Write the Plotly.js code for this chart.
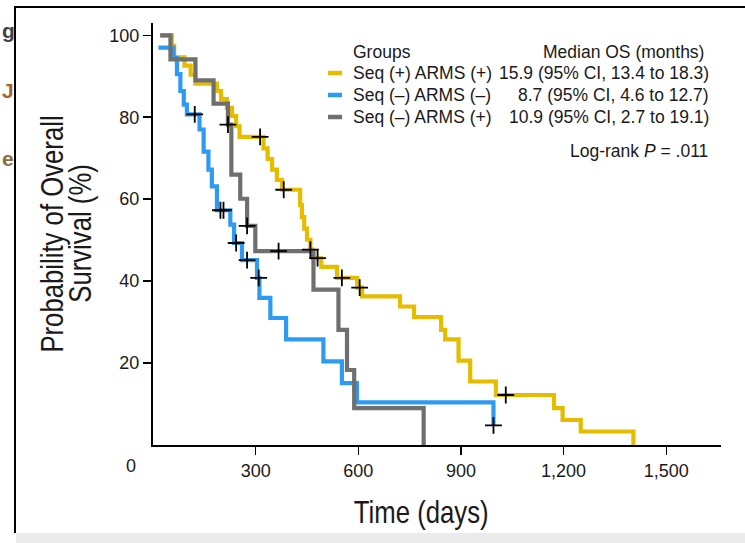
<!DOCTYPE html>
<html>
<head>
<meta charset="utf-8">
<script src="https://cdn.plot.ly/plotly-3.0.1.min.js"></script>
<style>
  html, body { margin: 0; padding: 0; background: #ffffff; }
  #chart { width: 745px; height: 543px; }
</style>
</head>
<body>
<div id="chart"></div>
<script>
// ---------- data (days, survival %) ----------
const groupNames = ["Seq (+) ARMS (+)", "Seq (\u2013) ARMS (\u2013)", "Seq (\u2013) ARMS (+)"];
const medianText = ["15.9 (95% CI, 13.4 to 18.3)", "8.7 (95% CI, 4.6 to 12.7)", "10.9 (95% CI, 2.7 to 19.1)"];
const groupColors = ["#E4BC00", "#2E9BF2", "#6F6F6F"];

const yellowDays = [21, 55, 62, 92, 110, 124, 187, 199, 216, 231, 243, 253, 323, 335, 348, 362, 377, 430, 435, 442, 450, 460, 466, 492, 538, 597, 611, 722, 763, 842, 854, 893, 927, 1002, 1172, 1197, 1250, 1404];
const yellowSurv = [100, 97.4, 94.6, 92.6, 90.4, 88.2, 86.4, 84.4, 82.3, 80.3, 77.8, 75.2, 72.4, 69.8, 67.2, 64.7, 62.3, 58.6, 55.6, 52.8, 50.1, 47.7, 45.6, 43.5, 40.8, 38.4, 36.3, 33.8, 31.2, 28.1, 25.8, 20.6, 15.5, 12.2, 9.0, 6.1, 3.3, 0];
const yellowCensDays = [313, 382, 460, 481, 552, 604, 1031];
const yellowCensSurv = [75.2, 62.3, 47.7, 45.6, 40.8, 38.4, 12.2];

const blueDays = [16, 60, 70, 80, 90, 99, 136, 148, 162, 172, 187, 226, 237, 260, 304, 311, 343, 389, 498, 552, 596, 995];
const blueSurv = [97.0, 94.5, 90.5, 86.4, 83.1, 80.7, 77.0, 71.6, 67.2, 63.1, 57.3, 53.8, 49.3, 45.1, 40.8, 35.9, 31.0, 25.8, 20.4, 15.1, 10.4, 4.8];
const blueCensDays = [122, 197, 206, 243, 275, 309, 995];
const blueCensSurv = [80.7, 57.3, 57.3, 49.3, 45.1, 40.8, 4.8];

const grayDays = [21, 51, 124, 177, 219, 229, 255, 275, 299, 469, 542, 567, 588, 791];
const graySurv = [100, 94.1, 89.0, 83.3, 78.2, 66.0, 60.1, 53.5, 47.3, 37.9, 28.1, 18.3, 9.0, 0];
const grayCensDays = [219, 275, 367];
const grayCensSurv = [78.2, 53.5, 47.3];

const xTickVals = [300, 600, 900, 1200, 1500];
const xTickText = ["300", "600", "900", "1,200", "1,500"];
const yTickVals = [20, 40, 60, 80, 100];
const yTickText = ["20", "40", "60", "80", "100"];

const xTitle = "Time (days)";
const yTitleLines = ["Probability of Overall", "Survival (%)"];

// ---------- layout helpers ----------
const W = 745, H = 543;
const L = 153, R = 721, T = 23, B = 445;
const px = x => (x - L) / (R - L);
const py = y => (B - y) / (B - T);

const sansFont = "'Liberation Sans', Arial, Helvetica, sans-serif";
const textColor = "#1a1a1a";

const curves = [
  {d: yellowDays, s: yellowSurv, cd: yellowCensDays, cs: yellowCensSurv, i: 0},
  {d: blueDays, s: blueSurv, cd: blueCensDays, cs: blueCensSurv, i: 1},
  {d: grayDays, s: graySurv, cd: grayCensDays, cs: grayCensSurv, i: 2}
];

const traces = [];
curves.forEach(c => {
  traces.push({
    type: "scatter", mode: "lines", x: c.d, y: c.s, name: groupNames[c.i],
    line: {shape: "hv", color: groupColors[c.i], width: 4.2},
    showlegend: false, hoverinfo: "skip", cliponaxis: false
  });
});
curves.forEach(c => {
  traces.push({
    type: "scatter", mode: "markers", x: c.cd, y: c.cs, name: groupNames[c.i] + " censored",
    marker: {symbol: "cross-thin-open", size: 12, color: "#000", line: {color: "#000", width: 1.8}},
    showlegend: false, hoverinfo: "skip", cliponaxis: false
  });
});

const annotations = [];
const shapes = [];

// legend-like table
annotations.push({xref: "paper", yref: "paper", x: px(351), y: py(52), xanchor: "left", yanchor: "middle",
  text: "Groups", showarrow: false, font: {family: sansFont, size: 17.5, color: textColor}});
annotations.push({xref: "paper", yref: "paper", x: px(706), y: py(52), xanchor: "right", yanchor: "middle",
  text: "Median OS (months)", showarrow: false, font: {family: sansFont, size: 17.5, color: textColor}});
const rowY = [73, 95, 117];
groupNames.forEach((g, i) => {
  annotations.push({xref: "paper", yref: "paper", x: px(351), y: py(rowY[i]), xanchor: "left", yanchor: "middle",
    text: g, showarrow: false, font: {family: sansFont, size: 17.5, color: textColor}});
  annotations.push({xref: "paper", yref: "paper", x: px(711), y: py(rowY[i]), xanchor: "right", yanchor: "middle",
    text: medianText[i], showarrow: false, font: {family: sansFont, size: 17.5, color: textColor}});
  shapes.push({type: "line", xref: "paper", yref: "paper", x0: px(328), x1: px(342), y0: py(rowY[i]), y1: py(rowY[i]),
    line: {color: groupColors[i], width: 4.5}});
});
annotations.push({xref: "paper", yref: "paper", x: px(710), y: py(151), xanchor: "right", yanchor: "middle",
  text: "Log-rank <i>P</i> = .011", showarrow: false, font: {family: sansFont, size: 17.5, color: textColor}});

// axis titles (condensed after render)
annotations.push({xref: "paper", yref: "paper", x: px(421), y: py(512), xanchor: "center", yanchor: "middle",
  text: xTitle, showarrow: false, font: {family: sansFont, size: 31, color: textColor}});
annotations.push({xref: "paper", yref: "paper", x: px(52), y: py(234), xanchor: "center", yanchor: "middle",
  text: yTitleLines[0], textangle: -90, showarrow: false, font: {family: sansFont, size: 31, color: textColor}});
annotations.push({xref: "paper", yref: "paper", x: px(80), y: py(234), xanchor: "center", yanchor: "middle",
  text: yTitleLines[1], textangle: -90, showarrow: false, font: {family: sansFont, size: 31, color: textColor}});

// origin label
annotations.push({xref: "paper", yref: "paper", x: px(131), y: py(466), xanchor: "center", yanchor: "middle",
  text: "0", showarrow: false, font: {family: sansFont, size: 18, color: textColor}});

// partial letters at the left edge
annotations.push({xref: "paper", yref: "paper", x: px(0), y: py(31), xanchor: "left", yanchor: "middle",
  text: "<b>g</b>", showarrow: false, font: {family: sansFont, size: 21, color: "#3a4150"}});
annotations.push({xref: "paper", yref: "paper", x: px(0), y: py(90), xanchor: "left", yanchor: "middle",
  text: "<b>J</b>", showarrow: false, font: {family: sansFont, size: 21, color: "#a8642a"}});
annotations.push({xref: "paper", yref: "paper", x: px(0), y: py(158), xanchor: "left", yanchor: "middle",
  text: "<b>e</b>", showarrow: false, font: {family: sansFont, size: 21, color: "#8a6d45"}});

// frame lines and bottom band
shapes.push({type: "line", xref: "paper", yref: "paper", x0: px(15), x1: px(15), y0: py(6), y1: py(533),
  line: {color: "#000", width: 2}});
shapes.push({type: "line", xref: "paper", yref: "paper", x0: px(15), x1: px(750), y0: py(7), y1: py(7),
  line: {color: "#000", width: 2}});
shapes.push({type: "rect", xref: "paper", yref: "paper", x0: px(16), x1: px(750), y0: py(533), y1: py(548),
  line: {width: 0}, fillcolor: "#ebebeb", layer: "below"});

const layout = {
  width: W, height: H,
  margin: {l: L, r: W - R, t: T, b: H - B, pad: 0},
  paper_bgcolor: "#ffffff", plot_bgcolor: "#ffffff",
  showlegend: false,
  xaxis: {
    range: [0, 1660], tickvals: xTickVals, ticktext: xTickText,
    ticks: "outside", ticklen: 8, tickwidth: 1.5, tickcolor: "#000",
    showline: true, linecolor: "#000", linewidth: 2, showgrid: false, zeroline: false,
    tickfont: {family: sansFont, size: 18, color: textColor}, fixedrange: true
  },
  yaxis: {
    range: [0, 103], tickvals: yTickVals, ticktext: yTickText,
    ticks: "outside", ticklen: 8, tickwidth: 1.5, tickcolor: "#000",
    showline: true, linecolor: "#000", linewidth: 2, showgrid: false, zeroline: false,
    tickfont: {family: sansFont, size: 18, color: textColor}, fixedrange: true
  },
  annotations: annotations,
  shapes: shapes
};

// condense the axis-title texts along their reading direction (reference uses a condensed face)
function condenseTitles() {
  const targets = new Set([xTitle].concat(yTitleLines));
  document.querySelectorAll("#chart text.annotation-text").forEach(t => {
    if (!targets.has(t.textContent)) return;
    const bb = t.getBBox();
    const cx = bb.x + bb.width / 2;
    const sx = 0.83;
    t.setAttribute("transform", `translate(${cx},0) scale(${sx},1) translate(${-cx},0)`);
  });
}

Plotly.newPlot("chart", traces, layout, {displayModeBar: false, staticPlot: true}).then(condenseTitles);
</script>
</body>
</html>
